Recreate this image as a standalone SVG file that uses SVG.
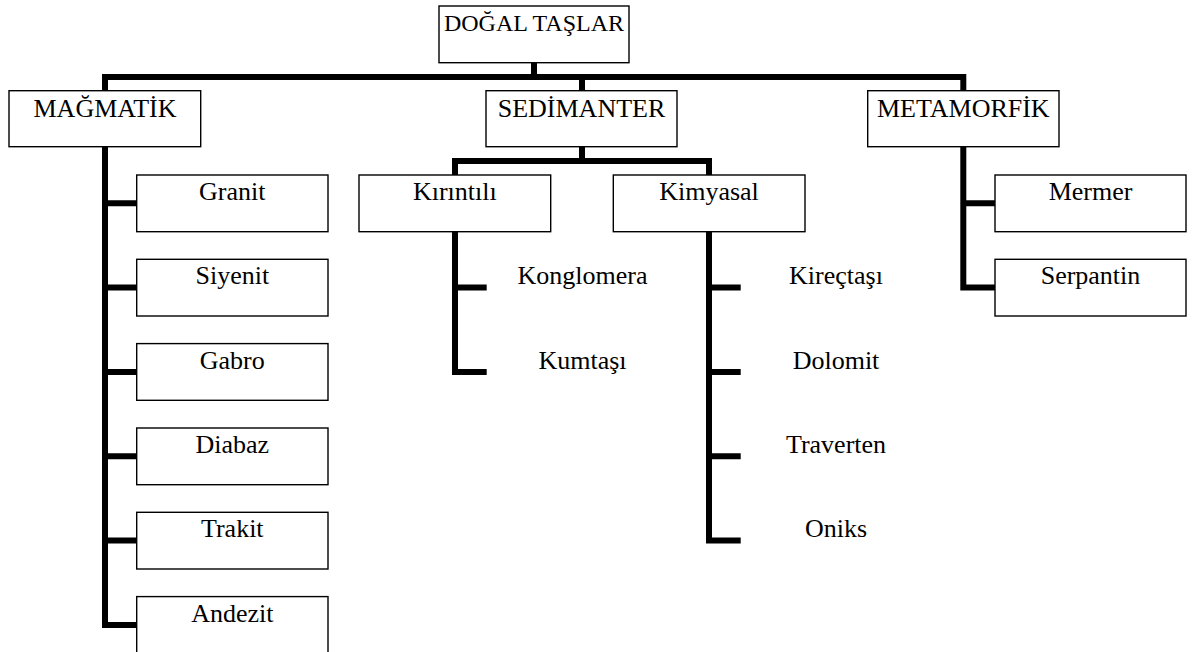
<svg xmlns="http://www.w3.org/2000/svg" width="1193" height="652" viewBox="0 0 1193 652">
<style>
.box{fill:#fff;stroke:#000;stroke-width:1.4}
.t{font-family:"Liberation Serif","Times New Roman",serif;font-size:26px;fill:#000;text-anchor:middle}
.t0{font-size:24px}
.c{fill:none;stroke:#000;stroke-width:6;stroke-linejoin:miter;stroke-linecap:butt}
</style>
<rect width="1193" height="652" fill="#fff"/>
<g id="connectors">
<path class="c" d="M534 62.7 V77"/>
<path class="c" d="M105 90.7 V77 H963.3 V90.7"/>
<path class="c" d="M582 77 V90.7"/>
<path class="c" d="M105 146.7 V624.9 H136.7"/>
<path class="c" d="M105 203.3 H136.7 M105 287.6 H136.7 M105 371.9 H136.7 M105 456.3 H136.7 M105 540.6 H136.7"/>
<path class="c" d="M582 146.7 V161"/>
<path class="c" d="M455 175 V161 H709 V175"/>
<path class="c" d="M455 231.7 V371.9 H486.7 M455 287.6 H486.7"/>
<path class="c" d="M709 231.7 V540.6 H740.7 M709 287.6 H740.7 M709 371.9 H740.7 M709 456.3 H740.7"/>
<path class="c" d="M963.3 146.7 V287.6 H995 M963.3 203.3 H995"/>
</g>
<g id="dogal"><rect class="box" x="439" y="6" width="190" height="56.7"/><text class="t t0" x="534" y="30.7">DOĞAL TAŞLAR</text></g>
<g id="magmatik"><rect class="box" x="9" y="90.7" width="191.7" height="56"/><text class="t" x="105" y="117.3">MAĞMATİK</text></g>
<g id="sedimanter"><rect class="box" x="486" y="90.7" width="191" height="56"/><text class="t" x="581.5" y="117.3">SEDİMANTER</text></g>
<g id="metamorfik"><rect class="box" x="867.7" y="90.7" width="191.3" height="56"/><text class="t" x="963.3" y="117.3">METAMORFİK</text></g>
<g id="granit"><rect class="box" x="136.7" y="175" width="191.3" height="56.7"/><text class="t" x="232.3" y="200">Granit</text></g>
<g id="siyenit"><rect class="box" x="136.7" y="259.3" width="191.3" height="56.7"/><text class="t" x="232.3" y="284.3">Siyenit</text></g>
<g id="gabro"><rect class="box" x="136.7" y="343.6" width="191.3" height="56.7"/><text class="t" x="232.3" y="368.6">Gabro</text></g>
<g id="diabaz"><rect class="box" x="136.7" y="428" width="191.3" height="56.7"/><text class="t" x="232.3" y="453">Diabaz</text></g>
<g id="trakit"><rect class="box" x="136.7" y="512.3" width="191.3" height="56.7"/><text class="t" x="232.3" y="537.3">Trakit</text></g>
<g id="andezit"><rect class="box" x="136.7" y="596.6" width="191.3" height="56.7"/><text class="t" x="232.3" y="621.6">Andezit</text></g>
<g id="kirintili"><rect class="box" x="359" y="175" width="191.7" height="56.7"/><text class="t" x="454.8" y="200">Kırıntılı</text></g>
<g id="kimyasal"><rect class="box" x="613.3" y="175" width="191.7" height="56.7"/><text class="t" x="709" y="200">Kimyasal</text></g>
<g id="konglomera"><text class="t" x="582.5" y="284">Konglomera</text></g>
<g id="kumtasi"><text class="t" x="582.5" y="369">Kumtaşı</text></g>
<g id="kirectasi"><text class="t" x="836" y="284">Kireçtaşı</text></g>
<g id="dolomit"><text class="t" x="836" y="369">Dolomit</text></g>
<g id="traverten"><text class="t" x="836" y="453.3">Traverten</text></g>
<g id="oniks"><text class="t" x="836" y="537.3">Oniks</text></g>
<g id="mermer"><rect class="box" x="995" y="175" width="191" height="56.7"/><text class="t" x="1090.5" y="200">Mermer</text></g>
<g id="serpantin"><rect class="box" x="995" y="259.3" width="191" height="56.7"/><text class="t" x="1090.5" y="284.3">Serpantin</text></g>
</svg>
